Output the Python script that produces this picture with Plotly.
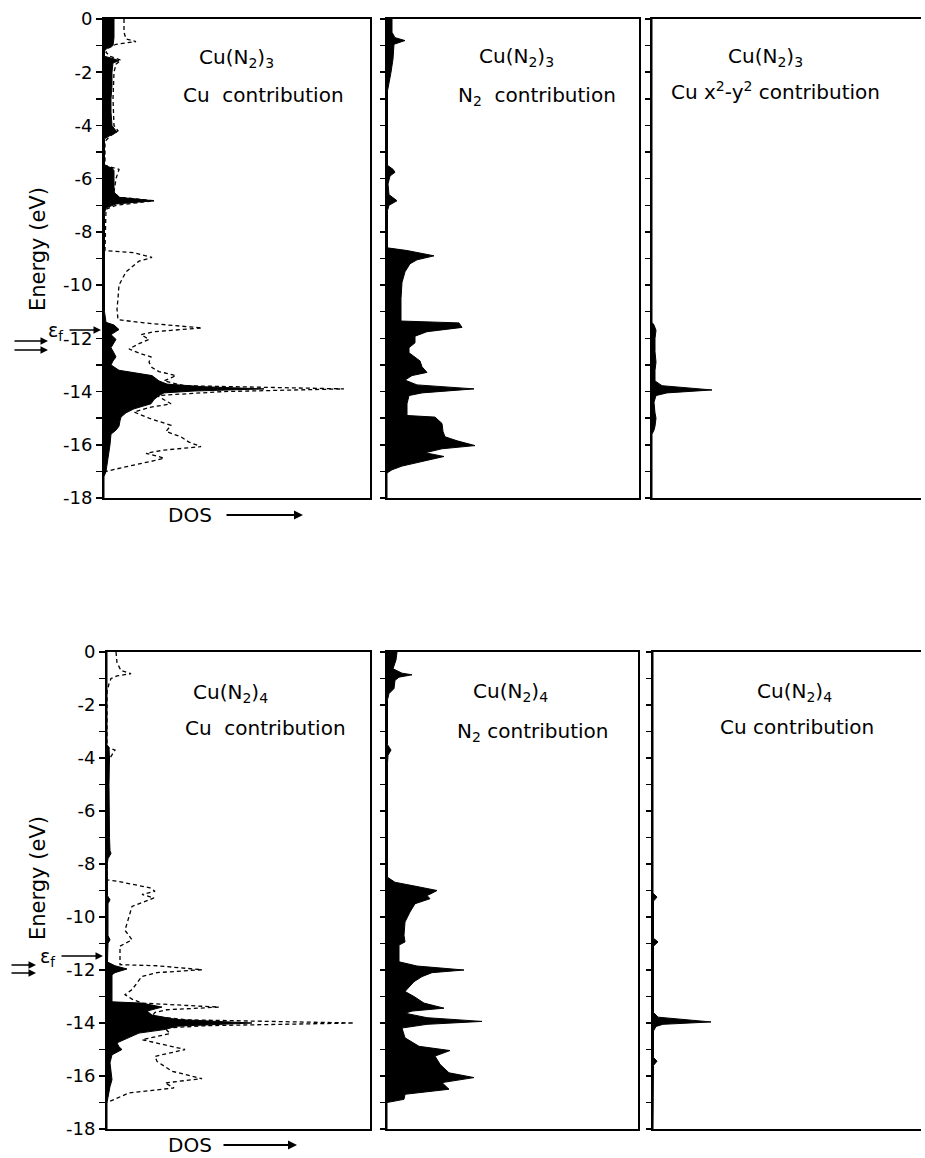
import plotly.graph_objects as go

# ---------------- data (energy in eV, DOS in arbitrary units) ----------------
# Cu(N2)3 - Cu contribution (filled) and total DOS (dashed)
cu3_cu_E = [0, -0.3, -0.7, -1.0, -1.1, -1.2, -1.4, -1.5, -1.57, -1.65, -2.0, -2.5, -3.0, -3.5, -4.0,
            -4.15, -4.25, -4.4, -4.5, -5.0, -5.5, -5.6, -5.7, -6.0, -6.5, -6.7, -6.83, -6.95, -7.1, -7.3,
            -9.0, -11.0, -11.4, -11.5, -11.67, -11.86, -12.04, -12.2, -12.35, -12.55, -12.7, -12.85,
            -13.0, -13.2, -13.4, -13.6, -13.72, -13.82, -13.9, -13.98, -14.05, -14.15, -14.3, -14.46,
            -14.65, -14.8, -14.96, -15.1, -15.3, -15.45, -15.6, -16.0, -16.5, -17.0, -17.2, -18]
cu3_cu_dos = [10, 10, 10, 9, 3, 0.5, 0.5, 10, 15, 9, 8, 8, 7, 7, 8,
              11, 13, 5, 0.5, 0.5, 0.5, 8, 10, 10, 10, 15, 50, 12, 2, 0.5,
              0.5, 0.5, 2, 10, 15, 7, 12, 9, 7, 10, 12, 9,
              7, 15, 48, 55, 63, 100, 160, 90, 60, 55, 50, 47,
              30, 22, 17, 16, 15, 12, 7, 6, 4, 2, 0, 0]
cu3_tot_E = [0, -0.5, -0.75, -0.85, -0.95, -1.1, -1.25, -1.4, -1.55, -1.7, -2.0, -3.0, -4.0, -4.2, -4.4,
             -4.6, -5.5, -5.65, -6.0, -6.5, -6.7, -6.83, -7.0, -7.15, -8.7, -8.78, -8.96, -9.1, -9.5,
             -10.0, -10.5, -10.9, -11.3, -11.42, -11.61, -11.75, -11.86, -12.04, -12.2, -12.4, -12.55,
             -12.7, -12.9, -13.1, -13.25, -13.4, -13.6, -13.78, -13.9, -14.0, -14.15, -14.3, -14.46,
             -14.6, -14.77, -15.0, -15.27, -15.5, -15.7, -15.9, -16.07, -16.2, -16.32, -16.5, -16.6,
             -16.8, -17.0, -17.1]
cu3_tot_dos = [20, 20, 22, 32, 12, 4, 2, 6, 17, 12, 10, 9, 10, 14, 6,
               1, 1, 15, 12, 10, 15, 50, 12, 2, 1, 30, 48, 35, 22,
               15, 14, 13, 14, 40, 98, 50, 37, 45, 35, 25, 35,
               47, 45, 48, 55, 72, 60, 80, 240, 120, 53, 60, 67,
               45, 30, 45, 67, 62, 77, 85, 97, 60, 42, 60, 50,
               25, 2, 0]

# Cu(N2)3 - N2 contribution
cu3_n2_E = [0, -0.5, -0.7, -0.81, -0.95, -1.5, -2.0, -2.5, -2.7, -5.5, -5.65, -5.76, -5.9, -6.2, -6.6,
            -6.83, -7.0, -7.2, -8.6, -8.7, -8.9, -9.05, -9.2, -9.5, -9.9, -10.5, -11.1, -11.35, -11.42,
            -11.59, -11.75, -11.92, -12.17, -12.35, -12.54, -12.7, -12.85, -13.07, -13.28, -13.4, -13.57,
            -13.75, -13.9, -14.05, -14.15, -14.46, -14.9, -14.96, -15.2, -15.5, -15.7, -15.85, -16.03,
            -16.15, -16.3, -16.44, -16.55, -16.63, -16.8, -16.94, -17.06, -18]
cu3_n2_dos = [5, 5, 8, 18, 7, 6, 4, 2, 0.5, 0.5, 6, 8, 3, 1, 2,
              10, 2, 0.5, 0.5, 20, 47, 30, 23, 18, 15, 14, 14, 14, 72,
              75, 40, 28, 28, 22, 22, 28, 33, 35, 40, 25, 18,
              30, 87, 35, 22, 20, 20, 48, 55, 56, 58, 70, 88,
              55, 38, 57, 45, 35, 15, 5, 0, 0]

# Cu(N2)3 - Cu x2-y2 contribution
cu3_xy_E = [0, -11.4, -11.5, -11.7, -12.0, -12.5, -12.9, -13.2, -13.6, -13.78, -13.94, -14.05, -14.15,
            -14.4, -14.8, -15.0, -15.3, -15.45, -15.6, -18]
cu3_xy_dos = [0, 0, 2, 4, 3, 3, 4, 3, 3, 10, 60, 15, 4,
              2, 3, 4, 3, 2, 0, 0]

# Cu(N2)4 - Cu contribution (filled) and total DOS (dashed)
cu4_cu_E = [0, -3.5, -3.6, -4.0, -5.0, -6.0, -7.0, -7.5, -7.6, -7.8, -8.0, -9.2, -9.35, -9.5, -10.7,
            -10.86, -11.0, -11.7, -11.84, -11.96, -12.1, -12.18, -13.2, -13.25, -13.4, -13.55, -13.7,
            -13.87, -14.0, -14.12, -14.25, -14.38, -14.57, -14.75, -14.9, -15.0, -15.1, -15.2, -15.5,
            -16.0, -16.14, -16.4, -17.0, -18]
cu4_cu_dos = [0, 0, 2, 2.5, 2, 2, 2.5, 3, 4, 1, 0.3, 0.5, 3, 1, 1,
              3, 1, 0.5, 8, 20, 8, 5, 5, 35, 55, 40, 45,
              70, 145, 70, 57, 32, 20, 10, 12, 15, 10, 5, 3,
              5, 5, 3, 0, 0]
cu4_tot_E = [0, -0.4, -0.7, -0.82, -0.9, -1.0, -1.2, -1.5, -3.6, -3.7, -4.0, -4.3, -8.6, -8.65, -8.9,
             -9.03, -9.15, -9.28, -9.6, -10.2, -10.5, -10.86, -11.1, -11.8, -11.84, -11.99, -12.1,
             -12.24, -12.5, -12.74, -12.93, -13.1, -13.25, -13.4, -13.5, -13.6, -13.75, -13.88, -14.0,
             -14.1, -14.19, -14.4, -14.63, -15.0, -15.26, -15.45, -15.82, -16.1, -16.26, -16.45, -16.64,
             -17.0]
cu4_tot_dos = [9, 10, 14, 24, 10, 4, 2, 0, 0, 8, 3, 0, 0, 10, 43,
               48, 35, 47, 25, 20, 18, 25, 13, 13, 50, 95, 50,
               35, 30, 25, 18, 25, 35, 112, 60, 48, 45, 80, 247,
               100, 58, 63, 35, 78, 48, 50, 65, 95, 58, 67, 22,
               0]

# Cu(N2)4 - N2 contribution
cu4_n2_E = [0, -0.3, -0.63, -0.8, -0.86, -0.95, -1.07, -1.38, -1.57, -1.8, -3.5, -3.7, -3.9, -4.2, -8.5,
            -8.6, -8.69, -8.85, -9.0, -9.1, -9.19, -9.31, -9.5, -9.81, -10.19, -10.69, -10.94, -11.06,
            -11.69, -11.85, -12.0, -12.1, -12.25, -12.44, -12.81, -13.0, -13.25, -13.44, -13.55, -13.63,
            -13.8, -13.94, -14.05, -14.19, -14.56, -14.88, -15.04, -15.25, -15.56, -15.88, -16.06,
            -16.25, -16.5, -16.69, -16.88, -17.0, -18]
cu4_n2_dos = [10, 9, 6, 15, 25, 12, 8, 7, 2, 0.5, 0.5, 4, 1, 0.5, 0.5,
              5, 8, 30, 50, 45, 40, 43, 28, 23, 18, 17, 18, 12,
              12, 30, 77, 45, 35, 27, 18, 27, 37, 57, 25, 18,
              40, 95, 40, 15, 18, 32, 63, 48, 53, 62, 87,
              55, 62, 18, 17, 0, 0]

# Cu(N2)4 - Cu contribution (right panel)
cu4_cu2_E = [0, -9.1, -9.25, -9.4, -10.8, -10.94, -11.1, -13.6, -13.78, -13.96, -14.05, -14.13, -14.3,
             -15.3, -15.44, -15.6, -18]
cu4_cu2_dos = [0, 0, 4, 0.5, 0.5, 5, 0.5, 0.5, 5, 58, 10, 3, 0.5,
               0.5, 4, 0.5, 0]

energy_ticks = list(range(-18, 1))
energy_labels = [str(v) if v % 2 == 0 else "" for v in energy_ticks]

# ---------------- layout helpers ----------------
W, H = 925, 1158
FONT = "DejaVu Sans"


def px(x):
    return x / W


def py(y):
    return 1 - y / H


panels = [
    # (x-left px, x-right px, y-top px, y-bottom px, labelled, closed box)
    (104, 370, 19, 498, True, True),
    (387, 639, 19, 498, False, True),
    (652, 921, 19, 498, False, False),
    (107, 370, 652, 1129, True, True),
    (387, 638, 652, 1129, False, True),
    (653, 921, 652, 1129, False, False),
]

fig = go.Figure()

series = [
    (1, cu3_cu_E, cu3_cu_dos, "fill"),
    (1, cu3_tot_E, cu3_tot_dos, "dash"),
    (2, cu3_n2_E, cu3_n2_dos, "fill"),
    (3, cu3_xy_E, cu3_xy_dos, "fill"),
    (4, cu4_cu_E, cu4_cu_dos, "fill"),
    (4, cu4_tot_E, cu4_tot_dos, "dash"),
    (5, cu4_n2_E, cu4_n2_dos, "fill"),
    (6, cu4_cu2_E, cu4_cu2_dos, "fill"),
]

for idx, E, d, kind in series:
    ax = "" if idx == 1 else str(idx)
    if kind == "fill":
        fig.add_trace(go.Scatter(x=d, y=E, mode="lines", fill="tozerox", fillcolor="black",
                                 line=dict(color="black", width=1), xaxis="x" + ax, yaxis="y" + ax,
                                 showlegend=False, hoverinfo="skip", cliponaxis=True))
    else:
        fig.add_trace(go.Scatter(x=d, y=E, mode="lines",
                                 line=dict(color="black", width=1.3, dash="4px,3px"),
                                 xaxis="x" + ax, yaxis="y" + ax, showlegend=False, hoverinfo="skip"))

layout = dict(width=W, height=H, margin=dict(l=0, r=0, t=0, b=0, pad=0, autoexpand=False),
              paper_bgcolor="white", plot_bgcolor="rgba(0,0,0,0)", template="none",
              font=dict(family=FONT, size=18, color="black"), showlegend=False)

shapes = []
for i, (xl, xr, yt, yb, labelled, closed) in enumerate(panels, start=1):
    key = "" if i == 1 else str(i)
    layout["xaxis" + key] = dict(domain=[px(xl), px(xr)], range=[0, xr - xl], anchor="y" + key,
                                 showline=True, linewidth=2, linecolor="black", mirror=True,
                                 showgrid=False, zeroline=False, showticklabels=False, ticks="",
                                 automargin=False, fixedrange=True)
    layout["yaxis" + key] = dict(domain=[py(yb), py(yt)], range=[-18, 0], anchor="x" + key,
                                 showline=True, linewidth=2, linecolor="black", mirror=closed,
                                 showgrid=False, zeroline=False, ticks="outside",
                                 ticklen=6 if labelled else 5, tickwidth=1.5, tickcolor="black",
                                 tickmode="array", tickvals=energy_ticks,
                                 ticktext=energy_labels if labelled else [""] * len(energy_ticks),
                                 showticklabels=labelled, tickfont=dict(family=FONT, size=18),
                                 automargin=False, fixedrange=True)

fig.update_layout(**layout)

NB = "\u00a0"
texts = [
    ("Cu(N<sub>2</sub>)<sub>3</sub>", 236, 58),
    ("Cu" + NB * 2 + "contribution", 263, 95),
    ("Cu(N<sub>2</sub>)<sub>3</sub>", 516, 57),
    ("N<sub>2</sub>" + NB * 2 + "contribution", 537, 96),
    ("Cu(N<sub>2</sub>)<sub>3</sub>", 765, 57),
    ("Cu" + NB + "x<sup>2</sup>-y<sup>2</sup>" + NB + "contribution", 775, 91),
    ("Cu(N<sub>2</sub>)<sub>4</sub>", 230, 693),
    ("Cu" + NB * 2 + "contribution", 265, 728),
    ("Cu(N<sub>2</sub>)<sub>4</sub>", 510, 692),
    ("N<sub>2</sub>" + NB + "contribution", 532, 732),
    ("Cu(N<sub>2</sub>)<sub>4</sub>", 794, 692),
    ("Cu" + NB + "contribution", 797, 727),
]
for t, x, y in texts:
    fig.add_annotation(text=t, x=px(x), y=py(y), xref="paper", yref="paper", showarrow=False,
                       xanchor="center", yanchor="middle", font=dict(family=FONT, size=20))

# axis titles
for y in (249, 878):
    fig.add_annotation(text="Energy" + NB + "(eV)", x=px(38), y=py(y), xref="paper", yref="paper",
                       showarrow=False, textangle=-90, xanchor="center", yanchor="middle",
                       font=dict(family=FONT, size=21))

# DOS labels with arrows
for (tx, ty, a0, a1) in ((190, 515, 225, 303), (190, 1145, 222, 297)):
    fig.add_annotation(text="DOS", x=px(tx), y=py(ty), xref="paper", yref="paper", showarrow=False,
                       xanchor="center", yanchor="middle", font=dict(family=FONT, size=20))
    fig.add_annotation(text="", x=px(a1), y=py(ty), xref="paper", yref="paper", showarrow=True,
                       ax=-(a1 - a0), ay=0, arrowhead=2, arrowsize=1, arrowwidth=1.8,
                       arrowcolor="black")

# Fermi level markers
for (ex, ey, a0, a1, dy1, dy2, d0, d1) in ((55, 331, 68, 101, 341, 350, 13, 48),
                                           (47, 957, 60, 103, 965, 973, 10, 36)):
    fig.add_annotation(text="\u03b5<sub>f</sub>", x=px(ex), y=py(ey), xref="paper", yref="paper",
                       showarrow=False, xanchor="center", yanchor="middle",
                       font=dict(family=FONT, size=19))
    fig.add_annotation(text="", x=px(a1), y=py(ey - 1), xref="paper", yref="paper", showarrow=True,
                       ax=-(a1 - a0), ay=0, arrowhead=2, arrowsize=1, arrowwidth=1.5,
                       arrowcolor="black")
    for yy in (dy1, dy2):
        fig.add_annotation(text="", x=px(d1), y=py(yy), xref="paper", yref="paper", showarrow=True,
                           ax=-(d1 - d0), ay=0, arrowhead=2, arrowsize=1, arrowwidth=1.5,
                           arrowcolor="black")

fig.write_html("out.html", config={"displayModeBar": False, "staticPlot": True},
               post_script="document.body.style.margin='0';document.body.style.overflow='hidden';")
